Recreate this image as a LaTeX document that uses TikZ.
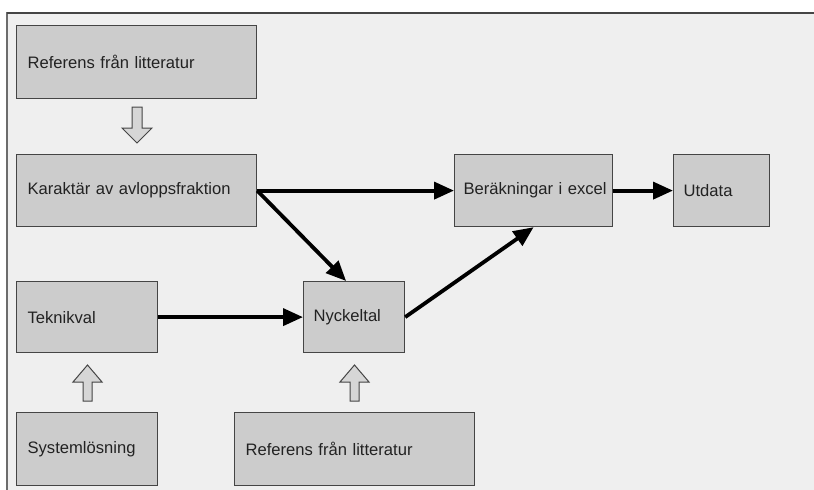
\documentclass[tikz,border=0pt]{standalone}
\usepackage{fontspec}
\setmainfont{Liberation Sans}
\usetikzlibrary{arrows.meta}
\definecolor{bgc}{HTML}{EFEFEF}
\definecolor{boxc}{HTML}{CCCCCC}
\definecolor{edgec}{HTML}{454545}
\definecolor{txtc}{HTML}{222222}
\begin{document}
\begin{tikzpicture}[x=1pt,y=-1pt,
  box/.style={draw=edgec, line width=1.2pt, fill=boxc, rectangle, anchor=north west,
    inner xsep=11pt, inner ysep=0pt, align=left, text=txtc,
    font=\fontsize{16.6}{20}\selectfont},
  conn/.style={line width=3.8pt, -{Triangle[length=20pt,width=17pt]}},
  hollow/.style={draw=edgec, line width=1pt, fill=boxc!80!white}]
\useasboundingbox (0,0) rectangle (814,490);
\fill[white] (0,0) rectangle (814,490);
\draw[fill=bgc, draw=gray!85!black, line width=1.5pt] (7,13) rectangle (820,496);
\draw[draw=edgec, line width=2pt] (7,13) -- (820,13);

\node[box, minimum height=73pt, text width=218pt] (ref1) at (16,25) {\mbox{Referens från litteratur}};
\node[box, minimum height=72pt, text width=218pt] (kar) at (16,154) {\mbox{Karaktär av avloppsfraktion}};
\node[box, minimum height=71pt, text width=119pt] (tek) at (16,281) {\mbox{Teknikval}};
\node[box, minimum height=73pt, text width=119pt] (sys) at (16,412) {\mbox{Systemlösning}};
\node[box, minimum height=71pt, text width=81pt, inner xsep=10pt] (nyck) at (303,281) {\mbox{Nyckeltal}};
\node[box, minimum height=73pt, text width=218pt] (ref2) at (234,412) {\mbox{Referens från litteratur}};
\node[box, minimum height=72pt, text width=140pt, inner xsep=9pt] (ber) at (454,154) {\mbox{Beräkningar i excel}};
\node[box, minimum height=72pt, text width=76pt, inner xsep=10pt] (utd) at (673,154) {\mbox{Utdata}};

% hollow block arrows
\draw[hollow] (132,107) -- (142,107) -- (142,128) -- (152,128) -- (137,143) -- (122,128) -- (132,128) -- cycle;
\draw[hollow] (83,401) -- (92,401) -- (92,382) -- (102,382) -- (87.5,365) -- (73,382) -- (83,382) -- cycle;
\draw[hollow] (350,401) -- (359,401) -- (359,382) -- (369,382) -- (354.5,365) -- (340,382) -- (350,382) -- cycle;

% connectors
\draw[conn] (kar.east) -- (ber.west);
\draw[conn] (kar.east) -- ([xshift=-8pt]nyck.north);
\draw[conn] (tek.east) -- (nyck.west);
\draw[conn] (nyck.east) -- (ber.south);
\draw[conn] (ber.east) -- (utd.west);
\end{tikzpicture}
\end{document}
